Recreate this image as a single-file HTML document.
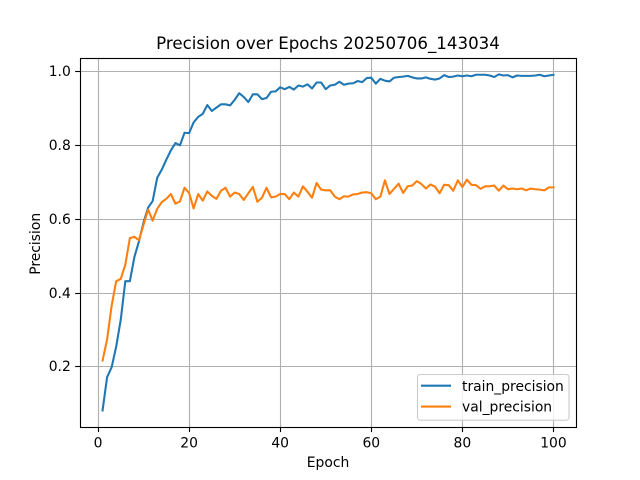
<!DOCTYPE html>
<html>
<head>
<meta charset="utf-8">
<title>Precision over Epochs</title>
<style>
html,body{margin:0;padding:0;background:#fff;}
svg{display:block;}
text{font-family:"DejaVu Sans",sans-serif;fill:#000;}
</style>
</head>
<body>
<svg id="chart" xmlns="http://www.w3.org/2000/svg" width="640" height="480" viewBox="0 0 640 480">
  <rect x="0" y="0" width="640" height="480" fill="#fff"/>
  <rect x="80" y="57.6" width="496" height="369.6" fill="#fff"/>
  <g id="grid"></g>
  <g id="series"></g>
  <g id="ticks"></g>
  <rect x="80.5" y="58.5" width="496" height="369" fill="none" stroke="#000" stroke-width="1.11"/>
  <text x="328" y="49" font-size="16.67" text-anchor="middle">Precision over Epochs 20250706_143034</text>
  <text x="328" y="467" font-size="13.89" text-anchor="middle">Epoch</text>
  <text x="0" y="0" font-size="13.89" text-anchor="middle" transform="translate(40 243.8) rotate(-90)">Precision</text>
  <g>
    <rect x="417.5" y="374.5" width="151.5" height="45.7" rx="2.8" ry="2.8" fill="#fff" fill-opacity="0.8" stroke="#ccc" stroke-width="1.11"/>
    <line x1="421" x2="451" y1="385.7" y2="385.7" stroke="#1f77b4" stroke-width="2.08"/>
    <text x="462" y="391" font-size="13.89">train_precision</text>
    <line x1="421" x2="451" y1="406.6" y2="406.6" stroke="#ff7f0e" stroke-width="2.08"/>
    <text x="462" y="411.7" font-size="13.89">val_precision</text>
  </g>
</svg>
<script>
var epochs = [];
for (var n = 1; n <= 100; n++) { epochs.push(n); }
var trainPrecision = [
0.081,0.171,0.198,0.254,0.327,0.431,0.431,0.497,0.539,0.590,
0.630,0.648,0.711,0.733,0.760,0.785,0.805,0.799,0.833,0.832,
0.861,0.876,0.884,0.908,0.892,0.901,0.910,0.910,0.907,0.922,
0.940,0.930,0.916,0.937,0.937,0.924,0.927,0.944,0.945,0.956,
0.951,0.957,0.950,0.961,0.958,0.964,0.953,0.969,0.969,0.951,
0.961,0.963,0.971,0.963,0.966,0.967,0.973,0.970,0.981,0.982,
0.966,0.979,0.974,0.972,0.982,0.984,0.985,0.987,0.983,0.980,
0.980,0.983,0.979,0.977,0.980,0.989,0.984,0.985,0.988,0.986,
0.988,0.986,0.990,0.990,0.990,0.988,0.984,0.991,0.988,0.989,
0.983,0.988,0.987,0.987,0.987,0.988,0.990,0.986,0.988,0.990];
var valPrecision = [
0.216,0.273,0.365,0.431,0.437,0.476,0.548,0.551,0.542,0.584,
0.625,0.595,0.627,0.645,0.654,0.667,0.641,0.647,0.684,0.670,
0.628,0.667,0.649,0.674,0.662,0.654,0.676,0.684,0.660,0.671,
0.667,0.651,0.669,0.686,0.646,0.657,0.684,0.658,0.660,0.667,
0.667,0.653,0.671,0.660,0.688,0.673,0.657,0.697,0.679,0.677,
0.677,0.660,0.653,0.661,0.660,0.666,0.667,0.671,0.672,0.669,
0.653,0.660,0.704,0.667,0.681,0.695,0.670,0.688,0.690,0.702,
0.694,0.682,0.693,0.687,0.669,0.692,0.691,0.676,0.704,0.686,
0.706,0.692,0.691,0.681,0.688,0.688,0.690,0.676,0.690,0.680,
0.682,0.680,0.682,0.677,0.682,0.680,0.679,0.677,0.685,0.685];
var xTickLabels = ["0","20","40","60","80","100"];
var yTickLabels = ["0.2","0.4","0.6","0.8","1.0"];

var NS = "http://www.w3.org/2000/svg";
var plotLeft = 80, plotRight = 576, plotTop = 57.6, plotBottom = 427.2;

function extent(list) {
  return [Math.min.apply(null, list), Math.max.apply(null, list)];
}
var xExt = extent(epochs);
var yExt = extent(trainPrecision.concat(valPrecision));
var xPad = (xExt[1] - xExt[0]) * 0.05;
var yPad = (yExt[1] - yExt[0]) * 0.05;

function xScale(v) {
  return plotLeft + (v - (xExt[0] - xPad)) / (xExt[1] - xExt[0] + 2 * xPad) * (plotRight - plotLeft);
}
function yScale(v) {
  return plotBottom - (v - (yExt[0] - yPad)) / (yExt[1] - yExt[0] + 2 * yPad) * (plotBottom - plotTop);
}
function snap(p) { return Math.round(p) + 0.5; }
function mk(tag, attrs, parent) {
  var el = document.createElementNS(NS, tag);
  for (var k in attrs) { el.setAttribute(k, attrs[k]); }
  parent.appendChild(el);
  return el;
}

var gridG = document.getElementById("grid");
var ticksG = document.getElementById("ticks");
var seriesG = document.getElementById("series");

xTickLabels.forEach(function (label) {
  var px = snap(xScale(parseFloat(label)));
  var g = mk("line", {x1: px, x2: px, y1: plotTop, y2: plotBottom, stroke: "#b0b0b0", "stroke-width": 1.11}, gridG);
  
  
  var t = mk("line", {x1: px, x2: px, y1: plotBottom, y2: plotBottom + 4.86, stroke: "#000", "stroke-width": 1.11}, ticksG);
  
  
  var l = mk("text", {x: xScale(parseFloat(label)), y: 447.5, "font-size": 13.89, "text-anchor": "middle"}, ticksG);
  
  
  l.textContent = label;
});

yTickLabels.forEach(function (label) {
  var py = snap(yScale(parseFloat(label)));
  var g = mk("line", {x1: plotLeft, x2: plotRight, y1: py, y2: py, stroke: "#b0b0b0", "stroke-width": 1.11}, gridG);
  
  
  var t = mk("line", {x1: plotLeft - 4.86, x2: plotLeft, y1: py, y2: py, stroke: "#000", "stroke-width": 1.11}, ticksG);
  
  
  var l = mk("text", {x: 70.8, y: py + 4.7, "font-size": 13.89, "text-anchor": "end"}, ticksG);
  
  
  l.textContent = label;
});

function linePath(values) {
  return values.map(function (v, i) {
    return (i ? "L" : "M") + xScale(epochs[i]).toFixed(2) + " " + yScale(v).toFixed(2);
  }).join("");
}
var trainLine = mk("path", {d: linePath(trainPrecision), fill: "none", stroke: "#1f77b4", "stroke-width": 2.08, "stroke-linejoin": "round", "stroke-linecap": "square"}, seriesG);


var valLine = mk("path", {d: linePath(valPrecision), fill: "none", stroke: "#ff7f0e", "stroke-width": 2.08, "stroke-linejoin": "round", "stroke-linecap": "square"}, seriesG);


</script>
</body>
</html>
